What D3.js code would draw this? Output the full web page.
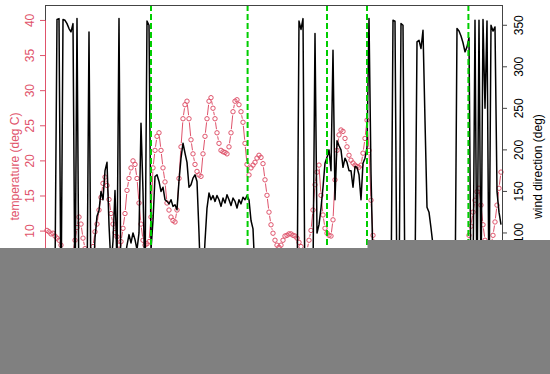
<!DOCTYPE html>
<html>
<head>
<meta charset="utf-8">
<script src="https://cdn.jsdelivr.net/npm/d3@7"></script>
<style>
  body { margin: 0; background: #fff; }
  text { font-family: "Liberation Sans", Arial, sans-serif; }
</style>
</head>
<body>
<script>
// temperature readings (deg C), one per time step
const temperature = [
  10.1, 9.9, 9.6, 9.7, 9.3, 9.0, 8.7, 8.0, 7.2, 6.5,
  6.0, 5.8, 6.2, 7.0, 8.7, 10.5, 12.0, 11.0, 9.0, 7.5,
  6.5, 6.0, 6.5, 7.8, 9.9, 11.0, 13.0, 14.8, 16.8, 17.7,
  16.5, 14.5, 12.5, 11.0, 9.8, 9.2, 8.0, 8.5, 10.4, 12.5,
  15.8, 17.5, 19.0, 20.0, 19.5, 17.5, 14.0, 11.0, 8.7, 8.0,
  8.2, 8.5, 12.0, 19.0, 21.5, 23.5, 24.0, 21.5, 19.0, 17.0,
  14.0, 13.0, 12.0, 11.5, 11.3, 13.0, 17.5, 22.0, 26.0, 28.0,
  28.5, 26.0, 23.0, 21.0, 19.5, 18.5, 18.0, 17.8, 21.0, 23.5,
  26.0, 28.5, 29.0, 27.5, 26.0, 24.0, 22.5, 21.5, 21.3, 21.2,
  21.0, 22.0, 24.0, 27.0, 28.5, 28.7, 28.0, 27.0, 25.5, 22.5,
  19.5, 18.0, 19.0, 19.4, 19.8, 20.4, 20.8, 20.5, 19.6, 17.3,
  15.1, 12.7, 10.9, 9.7, 8.7, 8.0, 7.7, 8.0, 8.7, 9.3,
  9.4, 9.6, 9.6, 9.4, 9.3, 9.0, 8.4, 7.8, 7.0, 6.8,
  7.2, 8.7, 10.1, 13.0, 16.6, 18.4, 19.4, 15.1, 12.3, 10.4,
  9.7, 9.4, 9.3, 11.6, 17.3, 21.5, 23.7, 24.4, 24.2, 23.2,
  22.0, 20.8, 20.1, 19.7, 19.4, 19.2, 19.1, 19.4, 21.1, 23.2,
  25.8, 21.5, 14.4, 9.4, 8.0, 7.5, 7.0, 6.6, 6.2, 5.9,
  5.6, 5.3, 5.0, 4.8, 4.6, 4.4, 4.2, 4.0, 3.9, 3.8,
  3.7, 3.6, 3.5, 3.5, 3.4, 3.4, 3.3, 3.3, 3.4, 3.5,
  3.6, 3.8, 4.0, 4.3, 4.6, 5.0, 5.4, 5.8, 6.2, 6.6,
  7.0, 7.3, 7.5, 7.6, 7.6, 7.5, 7.4, 7.3, 7.3, 7.5,
  8.0, 9.4, 10.7, 12.7, 14.4, 15.6, 16.1, 13.7, 10.9, 8.7,
  7.8, 7.5, 8.0, 9.4, 11.3, 13.7, 16.1, 18.4
];

// wind direction (deg), same time steps
const windDirection = [
  50, 45, 40, 45, 50, 357, 358, 5, 357, 356,
  352, 346, 342, 352, 10, 358, 15, 30, 40, 50,
  20, 342, 15, 40, 94, 120, 127, 150, 140, 175,
  185, 110, 60, 90, 151, 60, 358, 10, 40, 70,
  85, 98, 88, 100, 92, 80, 100, 232, 150, 40,
  355, 350, 80, 115, 168, 170, 162, 150, 155, 140,
  138, 135, 140, 132, 134, 128, 163, 190, 208, 196,
  185, 155, 158, 166, 170, 162, 100, 30, 40, 90,
  130, 148, 140, 145, 138, 145, 140, 132, 142, 136,
  146, 140, 133, 142, 138, 130, 140, 135, 143, 140,
  145, 140, 115, 105, 50, 40, 30, 25, 20, 25,
  30, 35, 40, 45, 50, 55, 50, 45, 40, 35,
  30, 30, 25, 20, 15, 10, 355, 345, 358, 10,
  20, 30, 40, 50, 340, 100, 110, 130, 155, 184,
  191, 200, 175, 320, 140, 211, 205, 200, 179, 190,
  185, 175, 175, 155, 180, 179, 170, 140, 184, 190,
  203, 358, 172, 60, 50, 45, 40, 35, 30, 28,
  25, 22, 20, 356, 355, 15, 20, 352, 350, 20,
  25, 30, 35, 40, 45, 330, 332, 322, 344, 235,
  131, 125, 106, 85, 70, 60, 55, 50, 45, 40,
  35, 30, 25, 20, 15, 346, 343, 337, 329, 318,
  324, 335, 20, 30, 356, 15, 356, 30, 357, 250,
  355, 20, 350, 343, 348, 150, 125, 110
];

// time steps marked with green dashed lines
const markers = [52, 100.3, 140, 160, 210.7];

const tempTicks = [0, 5, 10, 15, 20, 25, 30, 35, 40];
const windTicks = [0, 50, 100, 150, 200, 250, 300, 350];

const width = 550;
const height = 374;
const box = { left: 45, right: 502, top: 5, bottom: 328 };
const red = '#DF536B';

const svg = d3.select('body').append('svg')
  .attr('width', width)
  .attr('height', height);

const x = d3.scaleLinear()
  .domain([0, temperature.length - 1])
  .range([47, 501]);

const yTemp = d3.scaleLinear()
  .domain([-3.8, 42.2])
  .range([box.bottom, box.top]);

const yWind = d3.scaleLinear()
  .domain([-14.4, 374.4])
  .range([box.bottom, box.top]);

const plot = svg.append('g');

// temperature: points joined by gapped segments (R type "b")
const pts = temperature.map((t, i) => [x(i), yTemp(t)]);
const gap = 3.6;
const segs = [];
for (let i = 1; i < pts.length; i++) {
  const [x1, y1] = pts[i - 1];
  const [x2, y2] = pts[i];
  const len = Math.hypot(x2 - x1, y2 - y1);
  if (len <= 2 * gap) continue;
  const ux = (x2 - x1) / len, uy = (y2 - y1) / len;
  segs.push([x1 + ux * gap, y1 + uy * gap, x2 - ux * gap, y2 - uy * gap]);
}

plot.selectAll('line.tseg')
  .data(segs)
  .enter().append('line')
  .attr('class', 'tseg')
  .attr('x1', d => d[0]).attr('y1', d => d[1])
  .attr('x2', d => d[2]).attr('y2', d => d[3])
  .attr('stroke', red)
  .attr('stroke-width', 1);

plot.selectAll('circle')
  .data(temperature)
  .enter().append('circle')
  .attr('cx', (d, i) => x(i))
  .attr('cy', d => yTemp(d))
  .attr('r', 2.2)
  .attr('fill', 'none')
  .attr('stroke', red)
  .attr('stroke-width', 1);

// wind direction line
const windLine = d3.line()
  .x((d, i) => x(i))
  .y(d => yWind(d));

plot.append('path')
  .datum(windDirection)
  .attr('d', windLine)
  .attr('fill', 'none')
  .attr('stroke', '#000')
  .attr('stroke-width', 1.5)
  .attr('stroke-linejoin', 'round');

// green dashed markers
plot.selectAll('line.marker')
  .data(markers)
  .enter().append('line')
  .attr('class', 'marker')
  .attr('x1', d => x(d)).attr('x2', d => x(d))
  .attr('y1', box.top).attr('y2', box.bottom)
  .attr('stroke', '#00CD00')
  .attr('stroke-width', 2)
  .attr('stroke-dasharray', '6,3');

// frame
svg.append('rect')
  .attr('x', box.left + 0.5)
  .attr('y', box.top + 0.5)
  .attr('width', box.right - box.left)
  .attr('height', box.bottom - box.top)
  .attr('fill', 'none')
  .attr('stroke', '#444')
  .attr('stroke-width', 1);

// left axis (temperature)
const left = svg.append('g');
left.append('line')
  .attr('x1', box.left + 0.5).attr('x2', box.left + 0.5)
  .attr('y1', yTemp(0)).attr('y2', yTemp(40))
  .attr('stroke', red);
left.selectAll('line.tick')
  .data(tempTicks)
  .enter().append('line')
  .attr('class', 'tick')
  .attr('x1', box.left - 5).attr('x2', box.left)
  .attr('y1', d => yTemp(d)).attr('y2', d => yTemp(d))
  .attr('stroke', red);
left.selectAll('text')
  .data(tempTicks)
  .enter().append('text')
  .attr('transform', d => `translate(34,${yTemp(d)}) rotate(-90)`)
  .attr('text-anchor', 'middle')
  .attr('font-size', 12)
  .attr('fill', red)
  .text(d => d);
svg.append('text')
  .attr('transform', `translate(19,${(box.top + box.bottom) / 2}) rotate(-90)`)
  .attr('text-anchor', 'middle')
  .attr('font-size', 12)
  .attr('fill', red)
  .text('temperature (deg C)');

// right axis (wind direction)
const right = svg.append('g');
right.append('line')
  .attr('x1', box.right + 0.5).attr('x2', box.right + 0.5)
  .attr('y1', yWind(0)).attr('y2', yWind(350))
  .attr('stroke', '#444');
right.selectAll('line.tick')
  .data(windTicks)
  .enter().append('line')
  .attr('class', 'tick')
  .attr('x1', box.right).attr('x2', box.right + 5)
  .attr('y1', d => yWind(d)).attr('y2', d => yWind(d))
  .attr('stroke', '#444');
right.selectAll('text')
  .data(windTicks)
  .enter().append('text')
  .attr('transform', d => `translate(523,${yWind(d)}) rotate(-90)`)
  .attr('text-anchor', 'middle')
  .attr('font-size', 12)
  .attr('fill', '#000')
  .text(d => d);
svg.append('text')
  .attr('transform', `translate(542,${(box.top + box.bottom) / 2}) rotate(-90)`)
  .attr('text-anchor', 'middle')
  .attr('font-size', 12)
  .attr('fill', '#000')
  .text('wind direction (deg)');

// grey cover over the lower part, as in the source picture
svg.append('rect')
  .attr('x', 0).attr('y', 248)
  .attr('width', width).attr('height', height - 248)
  .attr('fill', '#808080');
svg.append('rect')
  .attr('x', 367.5).attr('y', 240)
  .attr('width', width - 367.5).attr('height', 9)
  .attr('fill', '#808080');
</script>
</body>
</html>
